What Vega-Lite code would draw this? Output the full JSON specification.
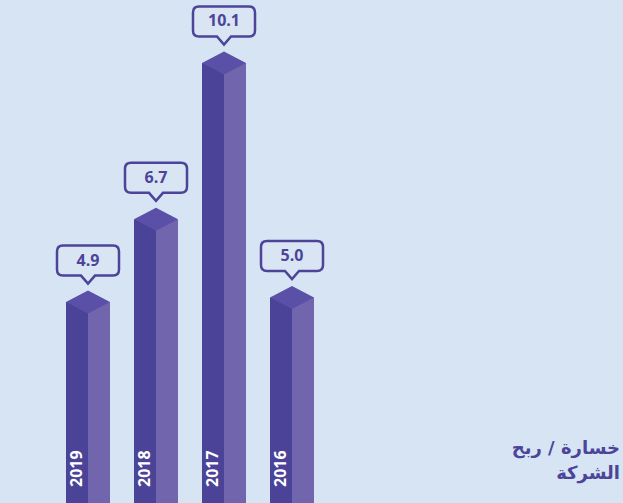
{
  "$schema": "https://vega.github.io/schema/vega-lite/v6.json",
  "width": 623,
  "height": 503,
  "padding": 0,
  "autosize": {"type": "none"},
  "background": "#d6e4f3",
  "config": {"view": {"stroke": null}},
  "title": {
    "text": ["خسارة / ربح", "الشركة"],
    "orient": "bottom",
    "anchor": "end",
    "align": "right",
    "baseline": "top",
    "offset": -63,
    "font": "DejaVu Sans",
    "fontSize": 18,
    "fontWeight": "bold",
    "color": "#4b4499",
    "lineHeight": 25,
    "dx": -3
  },
  "data": {
    "values": [
      {"year": "2019", "value": 4.9},
      {"year": "2018", "value": 6.7},
      {"year": "2017", "value": 10.1},
      {"year": "2016", "value": 5.0}
    ]
  },
  "encoding": {
    "x": {
      "field": "year",
      "type": "ordinal",
      "sort": ["2019", "2018", "2017", "2016"],
      "scale": {"range": [54, 326], "paddingInner": 0, "paddingOuter": 0},
      "axis": null
    },
    "y": {
      "field": "value",
      "type": "quantitative",
      "scale": {"domain": [0.53, 11.47], "zero": false, "nice": false},
      "axis": null
    }
  },
  "layer": [
    {
      "mark": {"type": "bar", "width": 22, "xOffset": -11, "color": "#4a4398", "clip": true},
      "encoding": {"y2": {"datum": 0}}
    },
    {
      "mark": {"type": "bar", "width": 22, "xOffset": 11, "color": "#7166ad", "clip": true},
      "encoding": {"y2": {"datum": 0}}
    },
    {
      "mark": {
        "type": "point",
        "shape": "M -1 0 L 0 -0.523 L 1 0 L 0 0.523 Z",
        "size": 1936,
        "filled": true,
        "fill": "#5a50a7",
        "opacity": 1,
        "strokeWidth": 0
      }
    },
    {
      "mark": {
        "type": "point",
        "shape": "M -0.806 -0.484 L 0.806 -0.484 Q 1 -0.484 1 -0.29 L 1 0.29 Q 1 0.484 0.806 0.484 L 0.226 0.484 L 0 0.742 L -0.226 0.484 L -0.806 0.484 Q -1 0.484 -1 0.29 L -1 -0.29 Q -1 -0.484 -0.806 -0.484 Z",
        "size": 3844,
        "filled": false,
        "fill": "#dae5f3",
        "fillOpacity": 1,
        "stroke": "#4b4499",
        "strokeWidth": 2.5,
        "opacity": 1,
        "yOffset": -41.5
      }
    },
    {
      "mark": {
        "type": "text",
        "font": "Open Sans",
        "fontSize": 16,
        "fontWeight": "bold",
        "color": "#4b4499",
        "baseline": "middle",
        "align": "center",
        "yOffset": -41.5
      },
      "encoding": {"text": {"field": "value", "type": "quantitative", "format": ".1f"}}
    },
    {
      "mark": {
        "type": "text",
        "font": "Open Sans",
        "fontSize": 16,
        "fontWeight": "bold",
        "color": "#ffffff",
        "angle": 270,
        "align": "left",
        "baseline": "middle",
        "xOffset": -11,
        "yOffset": -16
      },
      "encoding": {
        "y": {"datum": 0.53},
        "text": {"field": "year", "type": "nominal"}
      }
    }
  ]
}
